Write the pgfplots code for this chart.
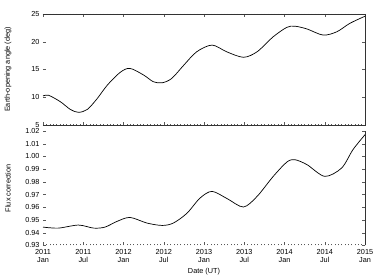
\documentclass[border=0pt]{standalone}
\usepackage{fontspec}
\setmainfont{Liberation Sans}
\usepackage{pgfplots}
\pgfplotsset{compat=1.18}
\begin{document}
\begin{tikzpicture}[x=1pt,y=1pt]
\path[use as bounding box] (0,0) rectangle (374,280);
\pgfplotsset{common/.style={
  scale only axis, width=322pt, xmin=2011, xmax=2015,
  axis line style={draw=none},
  xtick={2011,2011.5,2012,2012.5,2013,2013.5,2014,2014.5,2015},
  minor x tick num=11,
  tick style={black!65, line width=0.35pt},
  major tick length=3pt, minor tick length=1.3pt,
  tick align=inside,
  font=\fontsize{7.3}{8.3}\selectfont,
  /pgf/number format/assume math mode=true,
  ylabel style={at={(axis description cs:-0.1087,0.5)}, anchor=center},
  clip=false,
}}
\begin{axis}[common, at={(43pt,155pt)}, anchor=south west, height=111pt,
  ymin=5, ymax=25, ytick={5,10,15,20,25}, xticklabels={},
  ylabel={Earth-opening angle (deg)}]
\addplot[black, line width=0.7pt, smooth] coordinates {
(2011.00,10.23) (2011.07,10.35) (2011.215,9.2) (2011.34,7.8) (2011.44,7.28)
(2011.55,7.8) (2011.67,9.7) (2011.80,12.2) (2011.96,14.5) (2012.08,15.2)
(2012.25,14.0) (2012.37,12.8) (2012.48,12.6) (2012.60,13.4) (2012.75,15.8)
(2012.91,18.2) (2013.10,19.4) (2013.28,18.2) (2013.49,17.2) (2013.66,18.2)
(2013.86,20.9) (2014.03,22.6) (2014.13,22.8) (2014.28,22.3) (2014.48,21.2)
(2014.65,21.8) (2014.81,23.3) (2015.00,24.6)
};
\draw[black!80, line width=0.5pt] (rel axis cs:0,1) -- (rel axis cs:1,1) -- (rel axis cs:1,0) -- (rel axis cs:0,0);
\end{axis}
\begin{axis}[common, at={(43pt,34.6pt)}, anchor=south west, height=114.4pt,
  ymin=0.93, ymax=1.02, xtick pos=bottom,
  ytick={0.93,0.94,0.95,0.96,0.97,0.98,0.99,1.00,1.01,1.02},
  yticklabel style={/pgf/number format/.cd, fixed, fixed zerofill, precision=2},
  xticklabels={2011\\Jan,2011\\Jul,2012\\Jan,2012\\Jul,2013\\Jan,2013\\Jul,2014\\Jan,2014\\Jul,2015\\Jan},
  xticklabel style={align=center},
  xlabel={Date (UT)},
  xlabel style={at={(axis description cs:0.5,-0.233)}, anchor=center},
  ylabel={Flux correction}]
\addplot[black, line width=0.7pt, smooth] coordinates {
(2011.00,0.9444) (2011.19,0.9436) (2011.44,0.9460) (2011.63,0.9436) (2011.77,0.9444)
(2011.92,0.9489) (2012.08,0.9520) (2012.29,0.9476) (2012.48,0.9457) (2012.62,0.9476)
(2012.79,0.9554) (2012.95,0.9672) (2013.10,0.9725) (2013.29,0.9667) (2013.49,0.9602)
(2013.66,0.9686) (2013.86,0.9843) (2014.03,0.9956) (2014.13,0.9974) (2014.28,0.9935)
(2014.50,0.9843) (2014.71,0.9909) (2014.85,1.0053) (2015.00,1.0171)
};
\draw[black!80, line width=0.5pt] (rel axis cs:1,0) -- (rel axis cs:1,1);
\end{axis}
\end{tikzpicture}
\end{document}
